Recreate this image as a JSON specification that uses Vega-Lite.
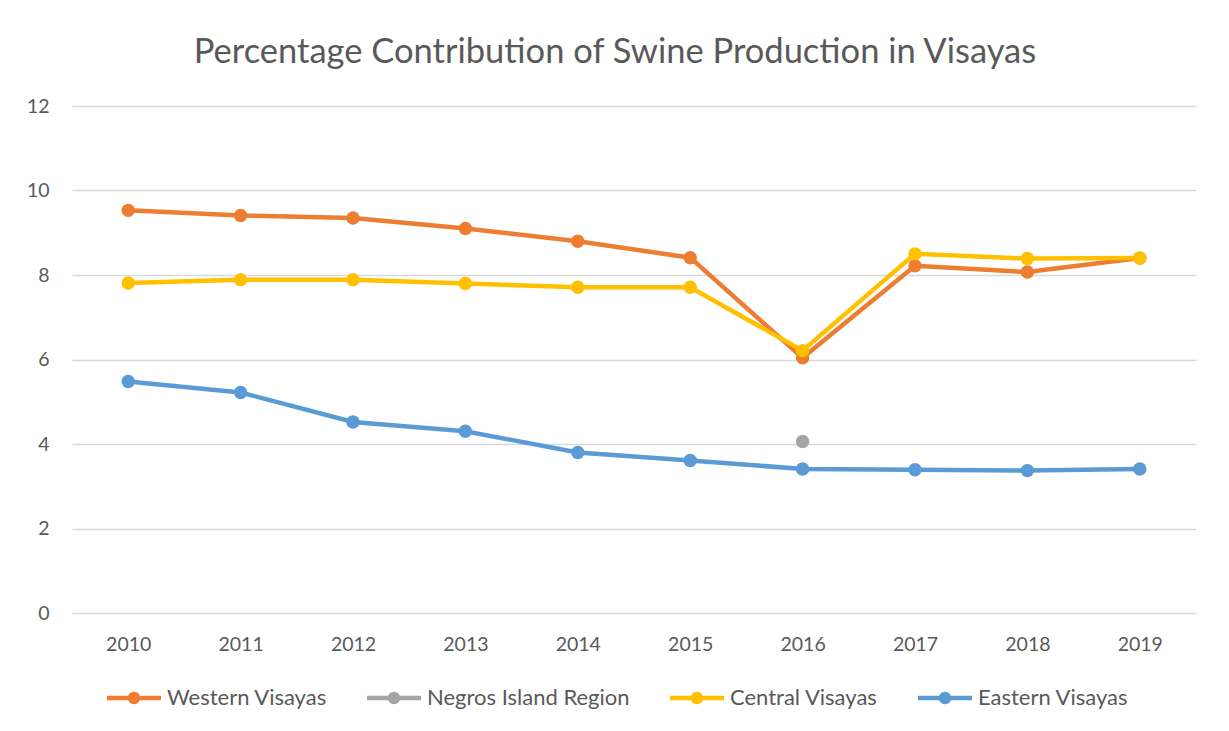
{
  "$schema": "https://vega.github.io/schema/vega-lite/v6.json",
  "width": 1124,
  "height": 507,
  "autosize": {"type": "none"},
  "padding": {"left": 72, "top": 106, "right": 33, "bottom": 118},
  "background": "white",
  "title": {
    "text": "Percentage Contribution of Swine Production in Visayas",
    "font": "Lato",
    "fontSize": 34.5,
    "fontWeight": "normal",
    "color": "#595959",
    "anchor": "middle",
    "frame": "group",
    "dx": -19,
    "offset": 26
  },
  "config": {
    "view": {"stroke": null},
    "font": "Lato"
  },
  "data": {
    "values": [
      {"region": "Western Visayas", "year": "2010", "pct": 9.53},
      {"region": "Western Visayas", "year": "2011", "pct": 9.41},
      {"region": "Western Visayas", "year": "2012", "pct": 9.35},
      {"region": "Western Visayas", "year": "2013", "pct": 9.10},
      {"region": "Western Visayas", "year": "2014", "pct": 8.80},
      {"region": "Western Visayas", "year": "2015", "pct": 8.41},
      {"region": "Western Visayas", "year": "2016", "pct": 6.04},
      {"region": "Western Visayas", "year": "2017", "pct": 8.22},
      {"region": "Western Visayas", "year": "2018", "pct": 8.07},
      {"region": "Western Visayas", "year": "2019", "pct": 8.40},
      {"region": "Negros Island Region", "year": "2016", "pct": 4.06},
      {"region": "Central Visayas", "year": "2010", "pct": 7.81},
      {"region": "Central Visayas", "year": "2011", "pct": 7.89},
      {"region": "Central Visayas", "year": "2012", "pct": 7.89},
      {"region": "Central Visayas", "year": "2013", "pct": 7.80},
      {"region": "Central Visayas", "year": "2014", "pct": 7.71},
      {"region": "Central Visayas", "year": "2015", "pct": 7.71},
      {"region": "Central Visayas", "year": "2016", "pct": 6.21},
      {"region": "Central Visayas", "year": "2017", "pct": 8.50},
      {"region": "Central Visayas", "year": "2018", "pct": 8.39},
      {"region": "Central Visayas", "year": "2019", "pct": 8.40},
      {"region": "Eastern Visayas", "year": "2010", "pct": 5.48},
      {"region": "Eastern Visayas", "year": "2011", "pct": 5.22},
      {"region": "Eastern Visayas", "year": "2012", "pct": 4.52},
      {"region": "Eastern Visayas", "year": "2013", "pct": 4.30},
      {"region": "Eastern Visayas", "year": "2014", "pct": 3.80},
      {"region": "Eastern Visayas", "year": "2015", "pct": 3.61},
      {"region": "Eastern Visayas", "year": "2016", "pct": 3.41},
      {"region": "Eastern Visayas", "year": "2017", "pct": 3.39},
      {"region": "Eastern Visayas", "year": "2018", "pct": 3.37},
      {"region": "Eastern Visayas", "year": "2019", "pct": 3.41}
    ]
  },
  "encoding": {
    "x": {
      "field": "year",
      "type": "ordinal",
      "scale": {"type": "point", "padding": 0.5},
      "axis": {
        "title": null,
        "labelAngle": 0,
        "labelFont": "Lato",
        "labelFontSize": 19.5,
        "labelColor": "#595959",
        "labelPadding": 22,
        "ticks": false,
        "domain": false,
        "grid": false
      }
    },
    "y": {
      "field": "pct",
      "type": "quantitative",
      "scale": {"domain": [0, 12]},
      "axis": {
        "title": null,
        "values": [0, 2, 4, 6, 8, 10, 12],
        "labelFont": "Lato",
        "labelFontSize": 19.5,
        "labelColor": "#595959",
        "labelPadding": 23,
        "ticks": false,
        "domain": false,
        "grid": true,
        "gridColor": "#D9D9D9",
        "gridWidth": 1.5
      }
    },
    "color": {
      "field": "region",
      "type": "nominal",
      "scale": {
        "domain": ["Western Visayas", "Negros Island Region", "Central Visayas", "Eastern Visayas"],
        "range": ["#ED7D31", "#A5A5A5", "#FFC000", "#5B9BD5"]
      },
      "legend": {
        "orient": "none",
        "legendX": 35,
        "legendY": 565,
        "direction": "horizontal",
        "title": null,
        "labelFont": "Lato",
        "labelFontSize": 22,
        "labelColor": "#595959",
        "labelLimit": 0,
        "symbolType": "M-1,-0.085H1V0.085H-1Z M0.23,0A0.23,0.23,0,1,1,-0.23,0A0.23,0.23,0,1,1,0.23,0Z",
        "symbolSize": 2916,
        "symbolStrokeWidth": 0,
        "symbolOpacity": 1,
        "labelOffset": 6,
        "columnPadding": 40
      }
    }
  },
  "layer": [
    {"mark": {"type": "line", "strokeWidth": 4.5}},
    {"mark": {"type": "point", "filled": true, "size": 180, "opacity": 1}}
  ]
}
